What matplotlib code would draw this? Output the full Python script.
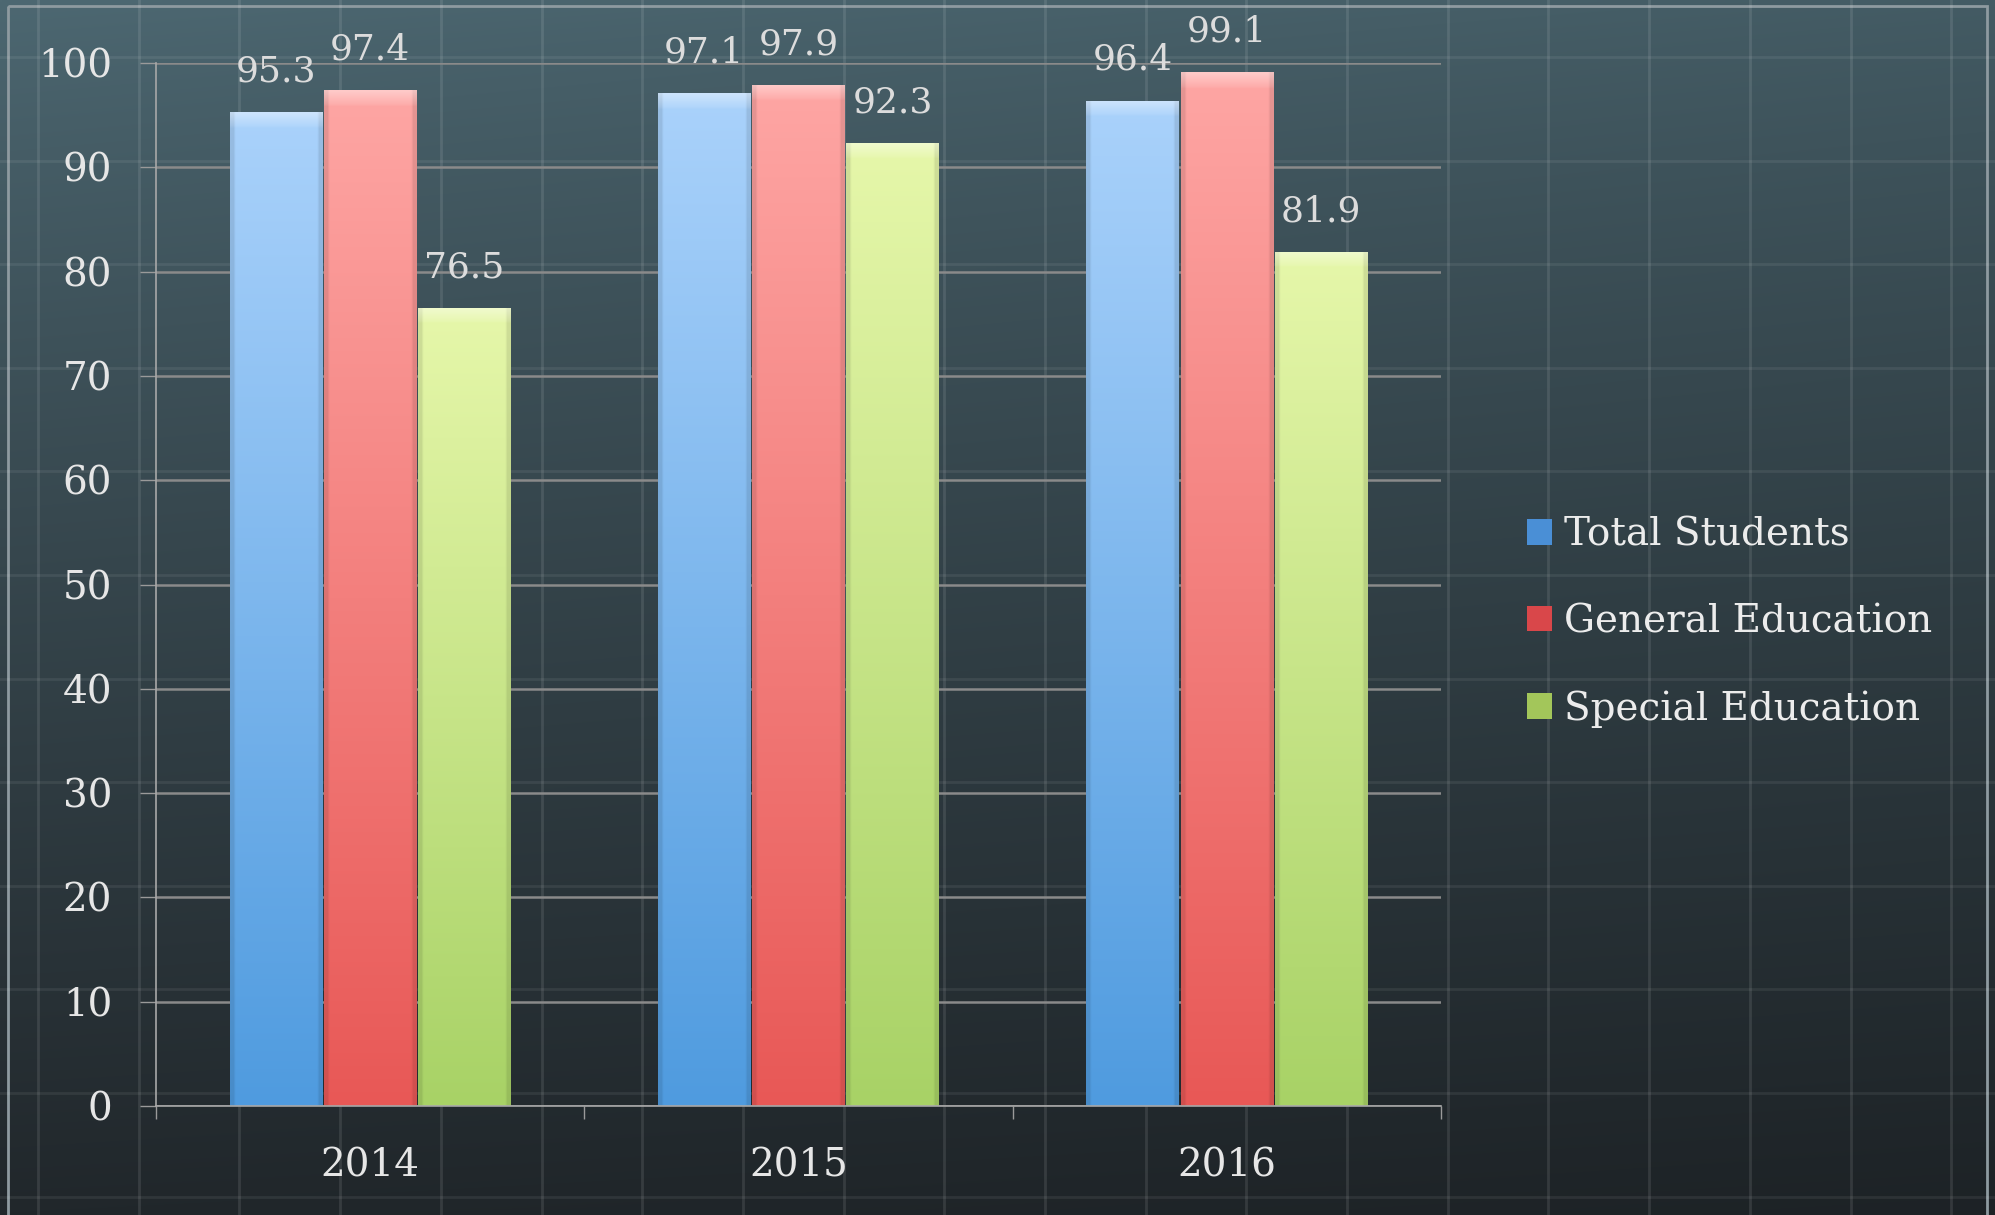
import numpy as np
import matplotlib
matplotlib.use('Agg')
import matplotlib.pyplot as plt
from matplotlib.patches import Rectangle, Patch
from matplotlib.colors import to_rgb

# ---------------- data ----------------
years = ['2014', '2015', '2016']
series = ['Total Students', 'General Education', 'Special Education']
total_students = [95.3, 97.1, 96.4]
general_education = [97.4, 97.9, 99.1]
special_education = [76.5, 92.3, 81.9]
yticks = list(range(0, 101, 10))

# ---------------- style ----------------
top_colors = ['#aad2fb', '#fea6a4', '#e6f7aa']
bottom_colors = ['#4f9bdf', '#e85856', '#a8d266']
legend_colors = ['#4a8fd6', '#d9474a', '#a3c65a']

plt.rcParams['font.family'] = ['DejaVu Serif']

W, H = 1995, 1215
fig = plt.figure(figsize=(W / 100, H / 100), dpi=100)

# background (slide-like gradient with grid pattern)
bg = fig.add_axes([0, 0, 1, 1], zorder=0)
bg.set_xlim(0, W)
bg.set_ylim(H, 0)
bg.set_axis_off()
yy = np.linspace(0, 1, 300)[:, None, None]
xx = np.linspace(0, 1, 400)[None, :, None]
c_top = np.array([77, 104, 114]) / 255
c_bot = np.array([33, 39, 43]) / 255
t = yy ** 0.85
img = c_top * (1 - t) + c_bot * t
img = img * (1 - 0.12 * xx)
bg.imshow(np.clip(img, 0, 1), extent=[0, W, H, 0], aspect='auto', interpolation='bilinear')
for gx in np.arange(38, W, 100.7):
    bg.plot([gx, gx], [0, H], color='white', alpha=0.10, lw=2)
for gy in np.arange(57, H, 103.6):
    bg.plot([0, W], [gy, gy], color='white', alpha=0.07, lw=2)
bg.add_patch(Rectangle((8, 6), 1979, 1260, fill=False, ec='#8e9aa0', lw=2))
bg.set_xlim(0, W)
bg.set_ylim(H, 0)

# main axes
ax = fig.add_axes([156 / W, 1 - 1106 / H, (1441 - 156) / W, (1106 - 63) / H], zorder=1)
ax.patch.set_alpha(0)

x = np.arange(len(years))
offsets = [-0.22, 0.0, 0.22]
width = 0.216
all_vals = [total_students, general_education, special_education]


def bar_image(ctop, cbot, h, n=400, m=40):
    ctop = np.array(to_rgb(ctop))
    cbot = np.array(to_rgb(cbot))
    r = np.linspace(0, 1, n)[:, None, None]
    arr = ctop * (1 - r) + cbot * r
    arr = np.repeat(arr, m, axis=1)
    cx = np.abs(np.linspace(-1, 1, m))[None, :, None]
    edge = np.where(cx > 0.92, 0.9, 1.0)
    arr = arr * edge
    band = max(1, int(round(1.4 / h * n)))
    fade = np.linspace(0.4, 0.1, band)[:, None, None]
    arr[:band] = arr[:band] * (1 - fade) + fade
    return np.clip(arr, 0, 1)


for i, vals in enumerate(all_vals):
    bars = ax.bar(x + offsets[i], vals, width, color=bottom_colors[i], zorder=2, linewidth=0)
    for b, v in zip(bars, vals):
        x0 = b.get_x()
        x1 = x0 + b.get_width()
        im = ax.imshow(bar_image(top_colors[i], bottom_colors[i], v),
                       extent=[x0, x1, 0, v], aspect='auto', zorder=2.5,
                       interpolation='bilinear')
        im.set_clip_path(b)
        ax.annotate(f'{v}', (x0 + b.get_width() / 2, v), xytext=(0, 22),
                    textcoords='offset points', ha='center', va='baseline',
                    fontsize=26, color='#dcdcdc')

ax.set_xlim(-0.5, 2.5)
ax.set_ylim(0, 100)
ax.set_yticks(yticks)
ax.grid(axis='y', color='#8a8a8a', lw=1.8)
ax.set_axisbelow(True)
ax.tick_params(axis='y', direction='out', length=11.5, width=1, color='#9a9a9a',
               pad=20, labelsize=28, labelcolor='#e6e6e6')
ax.set_xticks([-0.5, 0.5, 1.5, 2.5])
ax.set_xticklabels([])
ax.set_xticks(x, minor=True)
ax.set_xticklabels(years, minor=True)
ax.tick_params(axis='x', which='major', direction='out', length=9, width=1, color='#9a9a9a')
ax.tick_params(axis='x', which='minor', length=0, pad=30, labelsize=28, labelcolor='#e6e6e6')
for s in ['top', 'right']:
    ax.spines[s].set_visible(False)
for s in ['left', 'bottom']:
    ax.spines[s].set_color('#a8a8a8')
    ax.spines[s].set_linewidth(1.2)

handles = [Patch(facecolor=c, edgecolor='none') for c in legend_colors]
leg = ax.legend(handles, series, loc='center left',
                bbox_to_anchor=(1527 / W, 1 - 622 / H), bbox_transform=fig.transFigure,
                frameon=False, fontsize=28, handlelength=0.64, handleheight=0.64,
                handletextpad=0.3, labelspacing=1.28, borderpad=0, borderaxespad=0)
for txt in leg.get_texts():
    txt.set_color('#ececec')

fig.savefig('out.png', dpi=100)
